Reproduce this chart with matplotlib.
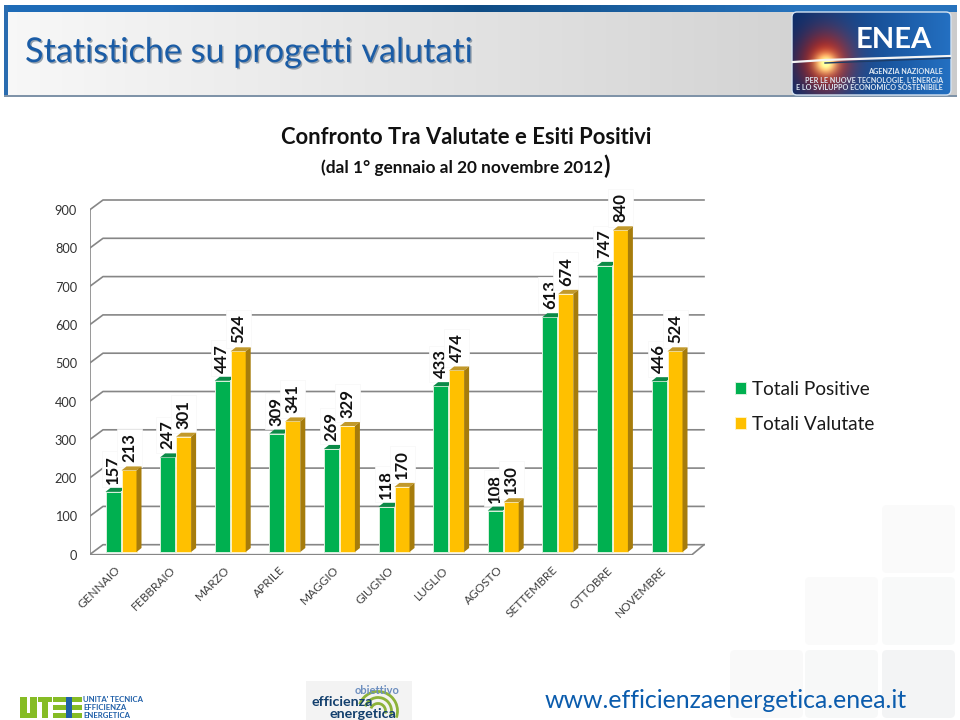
import numpy as np
import matplotlib
matplotlib.use('Agg')
import matplotlib.pyplot as plt
import matplotlib.patheffects as pe
from matplotlib.patches import Polygon, Rectangle, FancyBboxPatch, Arc

plt.rcParams['font.family'] = ['Lato', 'DejaVu Sans']

mesi = ['GENNAIO', 'FEBBRAIO', 'MARZO', 'APRILE', 'MAGGIO', 'GIUGNO', 'LUGLIO',
        'AGOSTO', 'SETTEMBRE', 'OTTOBRE', 'NOVEMBRE']
positive = [157, 247, 447, 309, 269, 118, 433, 108, 613, 747, 446]
valutate = [213, 301, 524, 341, 329, 170, 474, 130, 674, 840, 524]
yticks = [0, 100, 200, 300, 400, 500, 600, 700, 800, 900]

GREEN = '#00B050'
GREEN_TOP = '#0B8A47'
ORANGE = '#FFC000'
ORANGE_TOP = '#C2992A'
ORANGE_SIDE = '#A67C0C'
LINE = '#868686'

W, H = 960, 720
fig = plt.figure(figsize=(9.6, 7.2), dpi=100)

# sfondo, testata e loghi in coordinate pixel
ov = fig.add_axes([0, 0, 1, 1])
ov.set_xlim(0, W)
ov.set_ylim(H, 0)
ov.axis('off')

# quadrati filigrana
for sx, sy, col in [(882, 505, '#fafafa'), (805, 577, '#fafafa'), (882, 577, '#f8f9f9'),
                    (730, 650, '#f9f9f9'), (805, 650, '#f7f8f8'), (882, 650, '#f3f4f5')]:
    ov.add_patch(FancyBboxPatch((sx + 3, sy + 3), 67, 62, boxstyle='round,pad=3,rounding_size=5',
                                fc=col, ec='none'))

# testata
grad = np.linspace(0, 1, 300).reshape(1, -1)
ov.imshow(np.dstack([0.97 - 0.17 * grad] * 3), extent=[8, 957, 95, 12], aspect='auto', zorder=1)
top = np.array([[[0.12, 0.42, 0.72], [0.06, 0.30, 0.52], [0.15, 0.45, 0.74]]])
ov.imshow(top, extent=[5, 957, 12, 5], aspect='auto', interpolation='bilinear', zorder=2)
ov.add_patch(Rectangle((4, 5), 4, 91, fc='#2a6cb0', ec='none', zorder=2))
ov.add_patch(Rectangle((4, 95), 953, 1.5, fc='#7f93a8', ec='none', zorder=2))
ov.set_xlim(0, W)
ov.set_ylim(H, 0)
ov.text(25, 52, 'Statistiche su progetti valutati', fontsize=24.6, color='#1A5CA6', va='center',
        zorder=3, path_effects=[pe.withSimplePatchShadow(offset=(1, -1), shadow_rgbFace='#7b8a9a', alpha=0.8)])

# logo ENEA
xx, yy = np.meshgrid(np.linspace(0, 1, 160), np.linspace(0, 1, 84))
logo = np.zeros((84, 160, 3))
logo[..., 0] = 0.04 + 0.10 * xx
logo[..., 1] = 0.18 + 0.26 * xx
logo[..., 2] = 0.42 + 0.34 * xx
glow = np.exp(-(((xx - 0.21) / 0.16) ** 2 + ((yy - 0.6) / 0.36) ** 2))
core = np.exp(-(((xx - 0.21) / 0.07) ** 2 + ((yy - 0.62) / 0.13) ** 2))
logo[..., 0] += 0.8 * glow
logo[..., 1] -= 0.1 * glow
logo[..., 2] -= 0.45 * glow
logo += core[..., None] * np.array([0.3, 0.95, 0.6])
im = ov.imshow(np.clip(logo, 0, 1), extent=[792, 951, 95, 12], aspect='auto', zorder=3)
clip = FancyBboxPatch((796, 16), 151, 75, boxstyle='round,pad=4,rounding_size=5', fc='none',
                      ec='#d5e3f2', lw=1, zorder=4)
ov.add_patch(clip)
im.set_clip_path(clip)
ov.plot([793, 825, 950], [62, 60, 56], color='#f4f4f4', lw=1.6, zorder=4)
ov.plot([825, 950], [63, 58], color='#1d3c66', lw=1, zorder=4)
ov.text(894, 40, 'ENEA', fontsize=21, color='white', weight='bold', ha='center', va='center', zorder=5)
for ty, s in [(72, 'AGENZIA NAZIONALE'), (80, "PER LE NUOVE TECNOLOGIE, L'ENERGIA"),
              (87.5, 'E LO SVILUPPO ECONOMICO SOSTENIBILE')]:
    ov.text(943, ty, s, fontsize=5.2, color='#dfe9f4', weight='bold', ha='right', va='center', zorder=5)

# titoli
ov.text(466, 137, 'Confronto Tra Valutate e Esiti Positivi', fontsize=15.8, weight='bold', ha='center',
        va='center', color='#111111')
ov.text(321, 168, '(dal 1° gennaio al 20 novembre 2012', fontsize=12.4, weight='bold', ha='left',
        va='center', color='#111111')
ov.text(603, 166, ')', fontsize=17, weight='bold', ha='left', va='center', color='#111111')

# footer
for fx, fy, fw, fh in [(20, 697, 7, 21), (30, 697, 7, 21), (20, 713, 17, 5),
                       (38, 697, 14, 5), (42, 697, 6, 21),
                       (53, 697, 13, 5), (53, 705, 13, 5), (53, 713, 13, 5),
                       (72, 697, 10, 5), (72, 705, 10, 5), (72, 713, 10, 5)]:
    ov.add_patch(Rectangle((fx, fy), fw, fh, fc='#86BC25', ec='none'))
ov.add_patch(Rectangle((66, 697), 6, 21, fc='#1F5FA8', ec='none'))
for ty, s in [(699.5, "UNITA' TECNICA"), (707.5, 'EFFICIENZA'), (715.5, 'ENERGETICA')]:
    ov.text(83, ty, s, fontsize=5.6, weight='bold', color='#1F5FA8', va='center')

ov.add_patch(Rectangle((306, 681), 106, 39, fc='#f3f3f3', ec='none'))
for d in [10, 18, 26]:
    ov.add_patch(Arc((378, 711), d * 1.5, d * 1.5, theta1=200, theta2=20, color='#8DB33A', lw=2))
ov.text(377, 691, 'obiettivo', fontsize=8, weight='bold', color='#6C8EBF', ha='center', va='center')
ov.text(311, 701.5, 'efficienza', fontsize=10.3, weight='bold', color='#123F6D', va='center')
ov.text(330, 713.5, 'energetica', fontsize=10.3, weight='bold', color='#123F6D', va='center')
ov.text(545, 701, 'www.efficienzaenergetica.enea.it', fontsize=17.9, color='#0B5CAD', va='center')

# grafico: 0 del piano frontale a y=554.7 px, 38.3 px ogni 100
PX_Y = 0.383
PX_X = 54.6
X_C = 121.0
ax_l, ax_r, ax_b, ax_t = 89.5, 705.0, 554.7, 190.0
ax = fig.add_axes([ax_l / W, 1 - ax_b / H, (ax_r - ax_l) / W, (ax_b - ax_t) / H])
ax.patch.set_alpha(0)
ax.set_xlim((ax_l - X_C) / PX_X, (ax_r - X_C) / PX_X)
ax.set_ylim(0, (ax_b - ax_t) / PX_Y)
for s in ax.spines.values():
    s.set_visible(False)

x = np.arange(len(mesi))
x0 = (ax_l - X_C) / PX_X
x_front = (692 - X_C) / PX_X
x_back = (704 - X_C) / PX_X
slant_x = 13.5 / PX_X
slant_y = 10 / PX_Y
floor = 2.7 / PX_Y
bw = 15 / PX_X
gap = 0.5 / PX_X
dx = 5 / PX_X
dy = 4 / PX_Y

# griglia e pareti
ax.plot([x0, x0], [0, yticks[-1]], color=LINE, lw=1.2, zorder=1, solid_capstyle='butt')
ax.plot([x0, x_front, x_back], [0, 0, slant_y], color=LINE, lw=1.2, zorder=1)
for v in yticks:
    ax.plot([x0, x0 + slant_x, x_back], [v, v + slant_y, v + slant_y], color=LINE, lw=1.2, zorder=1)

xg = x - bw / 2 - gap
xo = x + bw / 2 + gap
ax.bar(xg, positive, bw, bottom=floor, color=GREEN, edgecolor='#d8f0dc', lw=0.7, zorder=3, label='Totali Positive')
ax.bar(xo, valutate, bw, bottom=floor, color=ORANGE, edgecolor='#fff3c4', lw=0.7, zorder=3.2, label='Totali Valutate')

for i in range(len(mesi)):
    t = positive[i] + floor
    ax.add_patch(Polygon([(xg[i] - bw / 2, t), (xg[i] + bw / 2, t), (xg[i] + bw / 2 + dx, t + dy),
                          (xg[i] - bw / 2 + dx, t + dy)], fc=GREEN_TOP, ec='none', zorder=3))
    t = valutate[i] + floor
    r = xo[i] + bw / 2
    ax.add_patch(Polygon([(xo[i] - bw / 2, t), (r, t), (r + dx, t + dy), (xo[i] - bw / 2 + dx, t + dy)],
                         fc=ORANGE_TOP, ec='none', zorder=3.3))
    ax.add_patch(Polygon([(r, floor), (r + dx, floor + dy), (r + dx, t + dy), (r, t)],
                         fc=ORANGE_SIDE, ec='none', zorder=3.3))
    # etichette: il riquadro della serie arancio copre quella verde
    ax.text(xg[i], positive[i] + floor + 8 / PX_Y, str(positive[i]), rotation=90, ha='center', va='bottom',
            fontsize=12, weight='bold', color='#111111', zorder=2,
            bbox=dict(fc='white', ec='#f7f7f7', lw=0.5, pad=2.5))
    ax.text(xo[i], valutate[i] + floor + 8 / PX_Y, str(valutate[i]), rotation=90, ha='center', va='bottom',
            fontsize=12, weight='bold', color='#111111', zorder=2.5,
            bbox=dict(fc='white', ec='#f7f7f7', lw=0.5, pad=3.2))

ax.set_xticks(x - 6 / PX_X)
ax.set_xticklabels(mesi, rotation=45, ha='right', va='top', rotation_mode='anchor',
                   fontsize=8.6, color='#404040')
ax.set_yticks(yticks)
ax.tick_params(axis='both', length=0)
ax.tick_params(axis='x', pad=7)
ax.tick_params(axis='y', pad=9, labelsize=9.2, labelcolor='#333333')

handles, labels = ax.get_legend_handles_labels()
fig.legend(handles, labels, loc='upper left', bbox_to_anchor=(718 / W, 1 - 364 / H), frameon=False, fontsize=13.7,
           handlelength=0.58, handleheight=0.58, handletextpad=0.32, labelspacing=0.92, labelcolor='#1a1a1a')

fig.savefig('out.png', dpi=100)
